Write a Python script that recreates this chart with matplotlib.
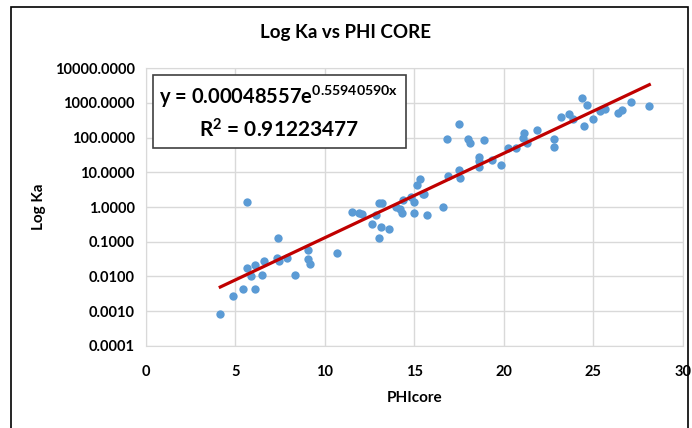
import matplotlib
matplotlib.use('Agg')
import matplotlib.pyplot as plt
import numpy as np
from matplotlib.patches import Rectangle

# PHIcore vs Ka measurements
phi = [4.16, 4.85, 5.45, 6.12, 5.64, 6.08, 5.88, 6.51, 6.62, 7.31,
       7.42, 7.91, 8.32, 9.04, 9.04, 9.15, 10.68, 5.67, 7.40, 11.52,
       11.91, 12.08, 12.64, 12.86, 13.01, 13.21, 13.14, 13.05, 13.60, 13.98,
       14.20, 14.33, 14.35, 14.82, 14.98, 15.00, 15.13, 15.32, 15.47, 15.55,
       15.73, 16.59, 16.90, 17.51, 17.55, 16.83, 17.49, 18.02, 18.13, 18.91,
       18.61, 18.61, 18.60, 19.32, 19.84, 20.22, 20.68, 21.13, 21.09, 21.30,
       21.85, 22.80, 22.80, 23.20, 23.62, 23.88, 24.37, 24.67, 24.46, 24.97,
       25.37, 25.67, 26.40, 26.60, 27.09, 28.13]
ka = [0.00083, 0.0028, 0.0044, 0.0045, 0.018, 0.021, 0.0105, 0.0107, 0.028, 0.033,
      0.028, 0.034, 0.011, 0.059, 0.032, 0.023, 0.047, 1.4, 0.13, 0.72,
      0.69, 0.62, 0.33, 0.57, 1.32, 1.32, 0.26, 0.13, 0.23, 0.98,
      0.85, 0.66, 1.6, 1.94, 1.42, 0.66, 4.3, 6.5, 2.3, 2.4,
      0.59, 1.02, 7.9, 12, 6.7, 93, 250, 90, 68, 85,
      28, 21, 14, 22, 16, 51, 49, 132, 95, 68,
      165, 93, 53, 380, 480, 350, 1370, 850, 218, 350,
      570, 680, 500, 620, 1020, 790]

# exponential fit y = a * exp(b x)
fit_a = 0.00048557
fit_b = 0.55940590
r_squared = 0.91223477

y_ticks = [0.0001, 0.001, 0.01, 0.1, 1, 10, 100, 1000, 10000]
x_ticks = [0, 5, 10, 15, 20, 25, 30]

plt.rcParams['font.family'] = ['Lato', 'DejaVu Sans']
plt.rcParams['mathtext.fontset'] = 'custom'
plt.rcParams['mathtext.rm'] = 'Lato:bold'
plt.rcParams['mathtext.it'] = 'Lato:bold'
plt.rcParams['mathtext.bf'] = 'Lato:bold'

fig = plt.figure(figsize=(6.92, 4.28), dpi=100)
ax = fig.add_axes([0.2107, 0.1916, 0.776, 0.6495])

# chart border
fig.patches.append(Rectangle((11 / 692, -0.05), 677 / 692, 1.05 - 7 / 428,
                             transform=fig.transFigure, fill=False,
                             edgecolor='black', lw=1.2))

ax.scatter(phi, ka, s=36, color='#5B9BD5', zorder=3, linewidths=0)

xs = np.linspace(min(phi), max(phi), 200)
ax.plot(xs, fit_a * np.exp(fit_b * xs), color='#C00000', lw=2.3, zorder=4)

ax.set_yscale('log')
ax.set_xlim(0, 30)
ax.set_ylim(0.0001, 10000)
ax.set_xticks(x_ticks)
ax.set_xticklabels([str(t) for t in x_ticks], fontweight='bold', fontsize=10.5)
ax.set_yticks(y_ticks)
ax.set_yticklabels(['%.4f' % t for t in y_ticks], fontweight='bold', fontsize=10.5)
ax.yaxis.set_minor_locator(matplotlib.ticker.NullLocator())
ax.tick_params(length=0, pad=8)
ax.tick_params(axis='x', pad=14)
ax.grid(True, color='#d9d9d9', lw=1)
ax.set_axisbelow(True)
for s in ax.spines.values():
    s.set_color('#d9d9d9')

ax.set_xlabel('PHIcore', fontweight='bold', fontsize=11, labelpad=8)
ax.set_ylabel('Log Ka', fontweight='bold', fontsize=11, labelpad=6)
fig.text(0.5, 0.925, 'Log Ka vs PHI CORE', ha='center', va='center',
         fontweight='bold', fontsize=13.5)

# equation box
fig.patches.append(Rectangle((153 / 692, 1 - 148 / 428), 253 / 692, 73 / 428,
                             transform=fig.transFigure, facecolor='white',
                             edgecolor='#404040', lw=1.2, zorder=5))
fig.text(279 / 692, 1 - 97 / 428,
         'y = %.8fe$^{%.8fx}$' % (fit_a, fit_b),
         ha='center', va='center', fontweight='bold', fontsize=14.5, zorder=6)
fig.text(279 / 692, 1 - 130 / 428, 'R$^2$ = %.8f' % r_squared,
         ha='center', va='center', fontweight='bold', fontsize=15, zorder=6)

plt.savefig('out.png', dpi=100)
